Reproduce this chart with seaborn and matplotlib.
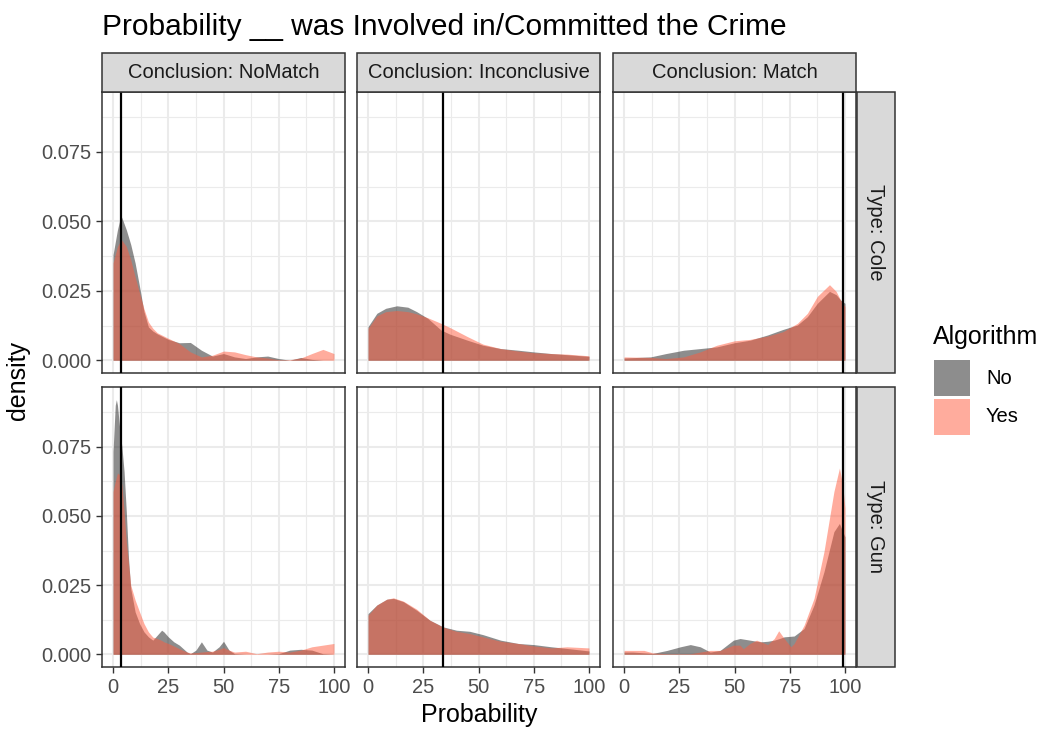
import pandas as pd
import seaborn as sns
import matplotlib.pyplot as plt
from matplotlib.patches import Rectangle
from matplotlib.ticker import FormatStrFormatter

conclusions = ["NoMatch", "Inconclusive", "Match"]
types = ["Cole", "Gun"]
algorithms = ["No", "Yes"]
# reference line per conclusion column
vline_x = [3.5, 34, 99]

# density curves, one x grid per panel
cole_nomatch_x = [0, 2, 3.5, 4, 6, 8, 10, 12, 14, 16, 18, 20, 25, 30, 35, 40, 45, 50,
                  55, 60, 65, 70, 75, 80, 85, 90, 95, 100]
cole_nomatch_no = [0.038, 0.047, 0.052, 0.0513, 0.047, 0.0417, 0.035, 0.0265, 0.0175, 0.012,
                   0.0105, 0.0095, 0.0075, 0.0063, 0.0064, 0.0036, 0.0015, 0.0024, 0.0012,
                   0.0006, 0.0012, 0.0015, 0.0006, 0.0, 0.001, 0.0003, 0.0, 0.0]
cole_nomatch_yes = [0.035, 0.041, 0.0432, 0.0432, 0.041, 0.0362, 0.030, 0.0242, 0.0185, 0.0138,
                    0.0115, 0.0099, 0.0079, 0.006, 0.003, 0.0012, 0.0018, 0.0033, 0.003,
                    0.002, 0.0012, 0.0008, 0.0002, 0.0002, 0.0008, 0.0024, 0.0039, 0.0024]

gun_nomatch_x = [0, 1, 1.5, 2, 3, 4, 5, 6, 7, 8, 10, 12, 14, 16, 18, 20, 22, 23, 25, 27.5,
                 30, 33.5, 35, 37.5, 40, 42.5, 45, 48, 50, 52.5, 55, 60, 65, 70, 75, 80,
                 85, 90, 95, 100]
gun_nomatch_no = [0.0733, 0.090, 0.092, 0.090, 0.0818, 0.075, 0.066, 0.0516, 0.0347, 0.0238,
                  0.0153, 0.0111, 0.0081, 0.0063, 0.0051, 0.0069, 0.0087, 0.0081, 0.0063,
                  0.0045, 0.0033, 0.0008, 0.0002, 0.0015, 0.0045, 0.0015, 0.0008, 0.0027,
                  0.0047, 0.0015, 0.0002, 0.0, 0.0, 0.0, 0.0002, 0.0015, 0.0018, 0.0015,
                  0.0002, 0.0]
gun_nomatch_yes = [0.0588, 0.0624, 0.064, 0.0655, 0.0649, 0.0612, 0.0516, 0.0407, 0.033, 0.025,
                   0.0196, 0.0153, 0.0111, 0.0081, 0.0062, 0.0057, 0.005, 0.0045, 0.0039,
                   0.003, 0.002, 0.0008, 0.0005, 0.0006, 0.0008, 0.001, 0.0011, 0.0018,
                   0.0024, 0.0015, 0.0008, 0.0011, 0.0002, 0.0008, 0.0011, 0.0008, 0.0015,
                   0.0027, 0.0033, 0.0039]

cole_inconcl_x = [0, 4, 8, 13, 18, 22, 27, 33, 37, 45, 52, 60, 68, 75, 83, 90, 100]
cole_inconcl_no = [0.0121, 0.0169, 0.0187, 0.0196, 0.0191, 0.0175, 0.0151, 0.0109, 0.0094,
                   0.0072, 0.0054, 0.0042, 0.0036, 0.003, 0.0024, 0.002, 0.0014]
cole_inconcl_yes = [0.0115, 0.016, 0.0175, 0.0179, 0.0175, 0.0167, 0.0153, 0.0133, 0.0118,
                    0.0085, 0.0058, 0.0042, 0.0033, 0.0027, 0.0024, 0.0022, 0.0016]

gun_inconcl_x = [0, 4, 8.5, 11.5, 16, 22, 28, 34, 40, 46, 52, 60, 68, 75, 83, 90, 100]
gun_inconcl_no = [0.0147, 0.0178, 0.0199, 0.0202, 0.019, 0.0159, 0.0123, 0.0099, 0.0087,
                  0.0083, 0.0071, 0.0051, 0.0039, 0.0035, 0.0027, 0.0021, 0.0012]
gun_inconcl_yes = [0.0141, 0.0178, 0.0199, 0.0204, 0.0192, 0.0163, 0.0123, 0.0098, 0.0083,
                   0.0075, 0.0063, 0.0047, 0.0039, 0.003, 0.0023, 0.0027, 0.0023]

cole_match_x = [0, 12, 19, 27, 34.5, 42, 50, 57, 65, 72, 78.5, 83, 87.5, 93, 96, 98, 100]
cole_match_no = [0.0008, 0.0012, 0.0024, 0.0036, 0.0042, 0.0048, 0.0063, 0.0072, 0.0091,
                 0.0111, 0.0127, 0.0157, 0.0205, 0.0248, 0.0236, 0.0217, 0.0205]
cole_match_yes = [0.0012, 0.001, 0.0006, 0.0012, 0.003, 0.0054, 0.007, 0.0075, 0.0087,
                  0.0103, 0.0133, 0.0169, 0.023, 0.0272, 0.0248, 0.0217, 0.0193]

gun_match_x = [0, 4, 9, 13, 19.5, 25.5, 30, 34.5, 39, 43.5, 49.5, 52.5, 54, 57, 60, 62, 65,
               68, 70, 72.5, 75.5, 77, 81.5, 86, 90.5, 95, 97.5, 99, 100]
gun_match_no = [0.0008, 0.0008, 0.0005, 0.0003, 0.0014, 0.0027, 0.0035, 0.0027, 0.0008,
                0.0014, 0.0051, 0.0057, 0.0055, 0.0051, 0.0047, 0.0045, 0.0047, 0.0051,
                0.0056, 0.0063, 0.0065, 0.0066, 0.0093, 0.0178, 0.0298, 0.0443, 0.0473,
                0.0443, 0.0425]
gun_match_yes = [0.0014, 0.0014, 0.0014, 0.0005, 0.0002, 0.0002, 0.0002, 0.0008, 0.0014,
                 0.0014, 0.0033, 0.0033, 0.002, 0.0039, 0.0051, 0.0045, 0.0035, 0.0057,
                 0.0085, 0.0057, 0.0027, 0.0039, 0.0105, 0.0202, 0.0371, 0.0588, 0.0673,
                 0.0612, 0.0528]

panels = [
    ("Cole", "NoMatch", cole_nomatch_x, cole_nomatch_no, cole_nomatch_yes),
    ("Gun", "NoMatch", gun_nomatch_x, gun_nomatch_no, gun_nomatch_yes),
    ("Cole", "Inconclusive", cole_inconcl_x, cole_inconcl_no, cole_inconcl_yes),
    ("Gun", "Inconclusive", gun_inconcl_x, gun_inconcl_no, gun_inconcl_yes),
    ("Cole", "Match", cole_match_x, cole_match_no, cole_match_yes),
    ("Gun", "Match", gun_match_x, gun_match_no, gun_match_yes),
]
frames = []
for t, c, xs, no, yes in panels:
    for alg, ys in zip(algorithms, (no, yes)):
        frames.append(pd.DataFrame({"Probability": xs, "density": ys, "Algorithm": alg,
                                    "Conclusion": c, "Type": t}))
df = pd.concat(frames, ignore_index=True)

sns.set_theme(style="whitegrid")
plt.rcParams["font.family"] = ["Liberation Sans", "DejaVu Sans"]

W, H = 1045, 731
palette = {"No": "#1c1c1c", "Yes": "#ff5a3c"}
ALPHA = 0.5

g = sns.FacetGrid(df, row="Type", col="Conclusion", hue="Algorithm", row_order=types,
                  col_order=conclusions, hue_order=algorithms, palette=palette,
                  sharex=True, sharey=True, despine=False, height=3, aspect=1)
g.figure.set_size_inches(W / 100, H / 100)
g.figure.set_dpi(100)


def fill_density(data, color, label=None, **kws):
    ax = plt.gca()
    ax.fill_between(data["Probability"], data["density"], color=color, alpha=ALPHA,
                    linewidth=0, zorder=2)


g.map_dataframe(fill_density)
g.set_titles(template="")
g.set_axis_labels("", "")

fig = g.figure


def px_box(x0, y0, x1, y1):
    return [x0 / W, 1 - y1 / H, (x1 - x0) / W, (y1 - y0) / H]


col_px = [(102, 345), (357, 600), (613, 856)]
row_px = [(92, 373), (387, 667)]
ymax = df["density"].max()

for i in range(2):
    for j in range(3):
        ax = g.axes[i, j]
        ax.set_position(px_box(col_px[j][0], row_px[i][0], col_px[j][1], row_px[i][1]))
        ax.axvline(vline_x[j], color="black", lw=1.6, zorder=3)
        ax.set_xlim(-5, 105)
        ax.set_ylim(-0.05 * ymax, 1.05 * ymax)
        ax.set_xticks([0, 25, 50, 75, 100])
        ax.set_xticks([12.5, 37.5, 62.5, 87.5], minor=True)
        ax.set_yticks([0, 0.025, 0.05, 0.075])
        ax.set_yticks([0.0125, 0.0375, 0.0625, 0.0875], minor=True)
        ax.yaxis.set_major_formatter(FormatStrFormatter("%.3f"))
        ax.grid(which="major", color="#EBEBEB", lw=1.5)
        ax.grid(which="minor", color="#EBEBEB", lw=0.8)
        ax.set_axisbelow(True)
        ax.set_facecolor("white")
        for s in ax.spines.values():
            s.set_color("#333333")
            s.set_linewidth(1.1)
        ax.tick_params(which="major", length=4.5, width=1.0, color="#333333",
                       labelcolor="#4D4D4D", labelsize=14.5, pad=3.5,
                       bottom=(i == 1), left=(j == 0),
                       labelbottom=(i == 1), labelleft=(j == 0))
        ax.tick_params(which="minor", length=0)

# strips
for j, c in enumerate(conclusions):
    x0, x1 = col_px[j]
    fig.patches.append(Rectangle((x0 / W, 1 - 92 / H), (x1 - x0) / W, 39 / H,
                                 transform=fig.transFigure, facecolor="#D9D9D9",
                                 edgecolor="#333333", lw=1.1))
    fig.text((x0 + x1) / 2 / W, 1 - 72.5 / H, "Conclusion: " + c, ha="center", va="center",
             size=14.5, color="#1A1A1A")
for i, t in enumerate(types):
    y0, y1 = row_px[i]
    fig.patches.append(Rectangle((857 / W, 1 - y1 / H), 38 / W, (y1 - y0) / H,
                                 transform=fig.transFigure, facecolor="#D9D9D9",
                                 edgecolor="#333333", lw=1.1))
    fig.text(876 / W, 1 - (y0 + y1) / 2 / H, "Type: " + t, ha="center", va="center",
             size=14.5, color="#1A1A1A", rotation=270)

fig.text(102 / W, 1 - 35 / H, "Probability __ was Involved in/Committed the Crime",
         ha="left", va="baseline", size=21.5, color="black")
fig.text(479 / W, 1 - 715 / H, "Probability", ha="center", va="center", size=18, color="black")
fig.text(18 / W, 1 - 380 / H, "density", ha="center", va="center", size=18, rotation=90,
         color="black")

# legend
fig.text(933 / W, 1 - 337 / H, "Algorithm", ha="left", va="center", size=18, color="black")
for k, alg in enumerate(algorithms):
    top = 360 + k * 39
    fig.patches.append(Rectangle((934 / W, 1 - (top + 36) / H), 36 / W, 36 / H,
                                 transform=fig.transFigure, facecolor=palette[alg],
                                 alpha=ALPHA, lw=0))
    fig.text(986 / W, 1 - (top + 18) / H, alg, ha="left", va="center", size=14.5,
             color="black")

fig.savefig("out.png", dpi=100)
